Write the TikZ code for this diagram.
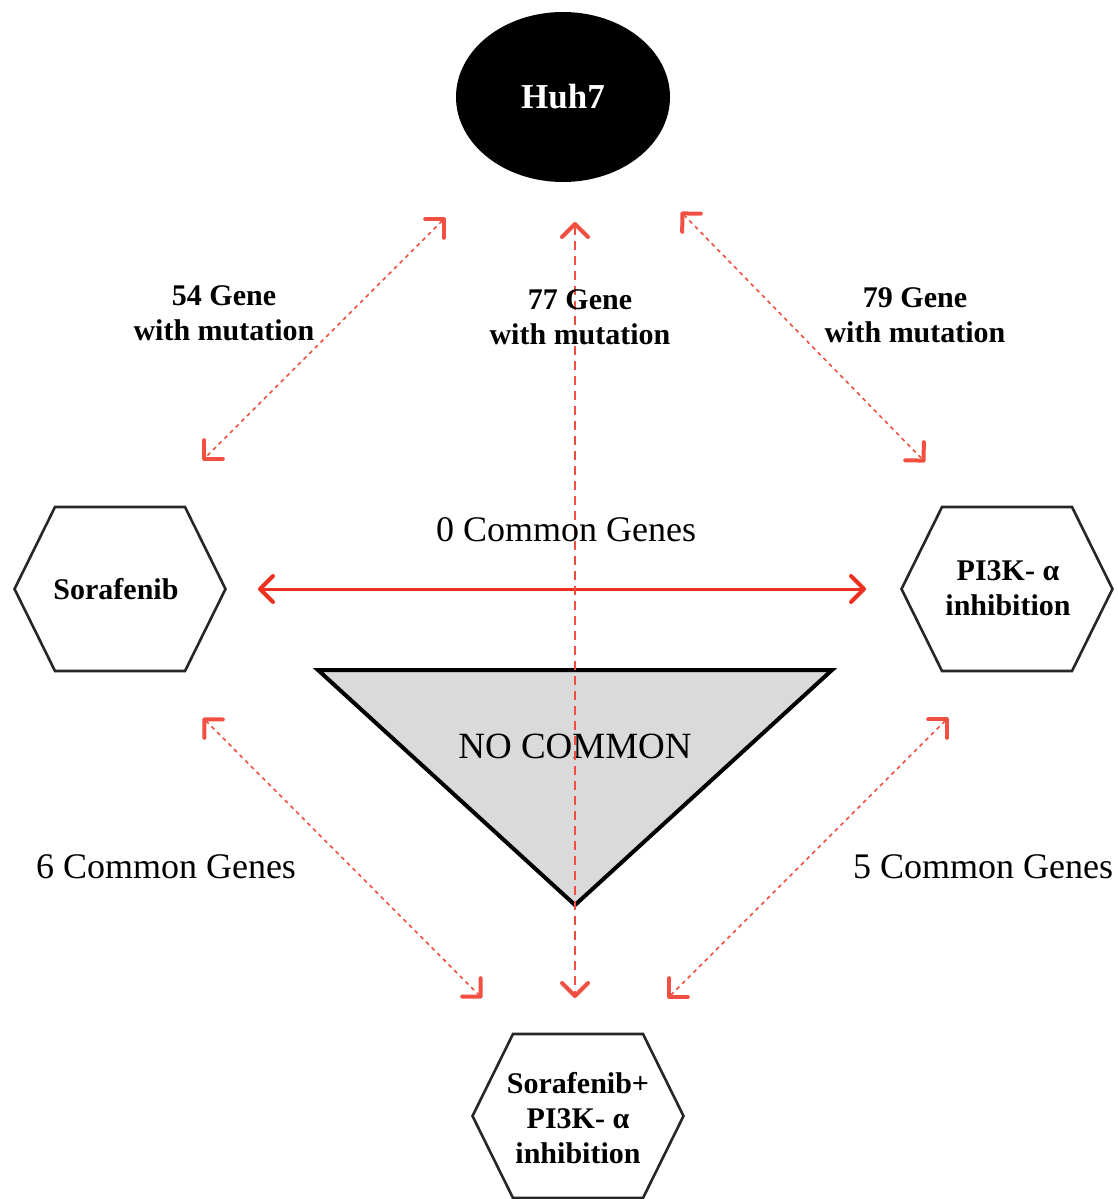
\documentclass[tikz,border=0pt]{standalone}
\usepackage{fontspec}
\setmainfont{Liberation Serif}
\usetikzlibrary{arrows.meta,shapes.geometric}
\definecolor{arrred}{RGB}{238,48,32}
\definecolor{trigray}{RGB}{218,218,218}
\tikzset{
  hexline/.style={draw=black!85, line width=2.6pt, line join=miter},
  hexpic/.pic={\draw[hexline, fill=white] (-105.5,0) -- (-65,-82) -- (65,-82) -- (105.5,0) -- (65,82) -- (-65,82) -- cycle;},
  hextext/.style={font=\fontsize{30}{35}\selectfont\bfseries, align=center, inner sep=0pt},
  lbl/.style={font=\fontsize{30}{35.5}\selectfont\bfseries, align=center, inner sep=0pt},
  cmn/.style={font=\fontsize{36}{40}\selectfont, inner sep=0pt},
  redtip/.tip={Straight Barb[length=13pt, width=26pt, line width=4pt, round]},
  dotarr/.style={draw=arrred!85, line width=1.6pt, dash pattern=on 4pt off 4pt, redtip-redtip},
  dasharr/.style={draw=arrred!85, line width=2pt, dash pattern=on 9pt off 6pt, redtip-redtip},
  solidarr/.style={draw=arrred, line width=3pt, redtip-redtip}
}
\begin{document}
\begin{tikzpicture}[x=1pt, y=-1pt]
\useasboundingbox (0,0) rectangle (1118,1199);
% Huh7
\node[ellipse, fill=black, minimum width=214pt, minimum height=170pt, inner sep=0pt] (huh) at (563,97) {};
\node[font=\fontsize{35}{40}\selectfont\bfseries, text=white] (huht) at (563,97) {Huh7};
% hexagons
\pic at (120,589) {hexpic};
\pic at (1007,589) {hexpic};
\pic at (578,1116) {hexpic};
\node[hextext] (sor) at (116,589) {Sorafenib};
\node[hextext] (pik) at (1008,588) {PI3K- α\\inhibition};
\node[hextext] (comb) at (578,1118) {Sorafenib+\\PI3K- α\\inhibition};
% triangle
\draw[line width=4pt, fill=trigray, line join=miter] (318,670) -- (832,670) -- (575,905) -- cycle;
\node[cmn, font=\fontsize{37}{40}\selectfont] (noc) at (575,746) {NO COMMON};
% arrow endpoints
\coordinate (ulA) at (445,218);
\coordinate (ulB) at (203,460);
\coordinate (urA) at (681,212);
\coordinate (urB) at (925,462);
\coordinate (llA) at (203,718);
\coordinate (llB) at (482,998);
\coordinate (lrA) at (948,718);
\coordinate (lrB) at (668,998);
\coordinate (vA) at (575,222);
\coordinate (vB) at (575,998);
\coordinate (hA) at (258,589);
\coordinate (hB) at (866,589);
% arrows
\draw[dotarr] (ulA) -- (ulB);
\draw[dotarr] (urA) -- (urB);
\draw[dotarr] (llA) -- (llB);
\draw[dotarr] (lrA) -- (lrB);
\draw[solidarr] (hA) -- (hB);
\draw[dasharr] (vA) -- (vB);
% labels
\node[lbl] (l54) at (224,313) {54 Gene\\with mutation};
\node[lbl] (l77) at (580,317) {77 Gene\\with mutation};
\node[lbl] (l79) at (915,315) {79 Gene\\with mutation};
\node[cmn] (c0) at (566,530) {0 Common Genes};
\node[cmn] (c6) at (166,867) {6 Common Genes};
\node[cmn] (c5) at (983,867) {5 Common Genes};
\end{tikzpicture}
\end{document}
